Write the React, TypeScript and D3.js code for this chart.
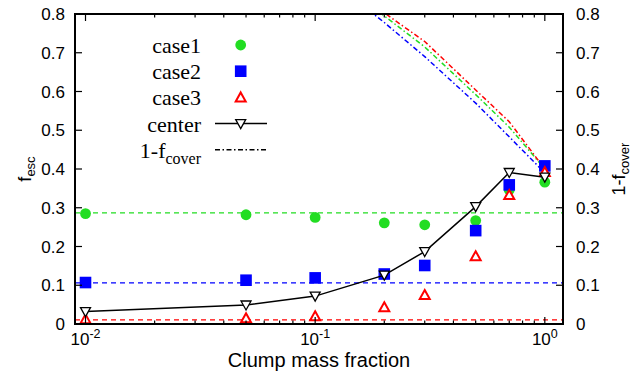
import * as d3 from 'd3'
import { useEffect, useRef } from 'react'

// clump mass fraction (x) and escape fractions for each case
const fraction = [0.01, 0.05, 0.1, 0.2, 0.3, 0.5, 0.7, 1.0]
const case1 = [0.285, 0.282, 0.275, 0.261, 0.256, 0.267, 0.346, 0.366]
const case2 = [0.107, 0.113, 0.119, 0.129, 0.151, 0.241, 0.359, 0.408]
const case3 = [0.012, 0.015, 0.02, 0.043, 0.075, 0.175, 0.333, 0.392]
const center = [0.032, 0.049, 0.072, 0.126, 0.187, 0.303, 0.391, 0.379]

// 1 - f_cover curves (right axis, same range)
const coverFraction = [0.1, 0.2, 0.3, 0.5, 0.7, 1.0]
const cover1 = [0.93, 0.795, 0.715, 0.592, 0.508, 0.4]
const cover2 = [0.92, 0.778, 0.69, 0.57, 0.483, 0.39]
const cover3 = [0.95, 0.803, 0.729, 0.604, 0.522, 0.4]

// homogeneous reference levels (dashed)
const baseLevels = [0.287, 0.106, 0.0105]

const xMajor = [0.01, 0.1, 1]
const xExp = ['-2', '-1', '0']
const yTicks = [0, 0.1, 0.2, 0.3, 0.4, 0.5, 0.6, 0.7, 0.8]

const green = '#22dd22'
const blue = '#0000ff'
const red = '#ff0000'

const App = () => {
  const ref = useRef<SVGSVGElement>(null)

  useEffect(() => {
    const W = 644,
      H = 371
    const margin = { top: 14, right: 81, bottom: 47, left: 75 }
    const svg = d3.select(ref.current)
    svg.selectAll('*').remove()

    const x = d3
      .scaleLog()
      .domain([0.009, 1.2])
      .range([margin.left, W - margin.right])
    const y = d3
      .scaleLinear()
      .domain([0, 0.8])
      .range([H - margin.bottom, margin.top])

    const x0 = margin.left,
      x1 = W - margin.right,
      y0 = H - margin.bottom,
      y1 = margin.top
    const sans = 'Liberation Sans, Arial, sans-serif'
    const serif = 'Liberation Serif, Times New Roman, serif'

    svg
      .append('defs')
      .append('clipPath')
      .attr('id', 'plotclip')
      .append('rect')
      .attr('x', x0)
      .attr('y', y1)
      .attr('width', x1 - x0)
      .attr('height', y0 - y1)

    const plot = svg.append('g').attr('clip-path', 'url(#plotclip)')

    // dashed reference levels
    const levelColors = [green, blue, red]
    baseLevels.forEach((v, i) => {
      plot
        .append('line')
        .attr('x1', x0)
        .attr('x2', x1)
        .attr('y1', y(v))
        .attr('y2', y(v))
        .attr('stroke', levelColors[i])
        .attr('stroke-width', 1.3)
        .attr('stroke-dasharray', '5,4')
    })

    // 1-fcover dash-dot curves
    const line = d3
      .line<[number, number]>()
      .x((d) => x(d[0]))
      .y((d) => y(d[1]))
    ;[
      [cover1, green],
      [cover2, blue],
      [cover3, red],
    ].forEach(([vals, col]: any) => {
      plot
        .append('path')
        .attr('d', line(coverFraction.map((f, i) => [f, vals[i]])))
        .attr('fill', 'none')
        .attr('stroke', col)
        .attr('stroke-width', 1.5)
        .attr('stroke-dasharray', '5,2.5,1.5,2.5')
    })

    const upTri = (cx: number, cy: number) =>
      `M${cx},${cy - 5}L${cx + 5},${cy + 4}L${cx - 5},${cy + 4}Z`
    const downTri = (cx: number, cy: number) =>
      `M${cx},${cy + 5}L${cx + 5},${cy - 4}L${cx - 5},${cy - 4}Z`

    // case1 circles
    plot
      .selectAll('.c1')
      .data(case1)
      .enter()
      .append('circle')
      .attr('cx', (d, i) => x(fraction[i]))
      .attr('cy', (d) => y(d))
      .attr('r', 5.4)
      .attr('fill', green)

    // case2 squares
    plot
      .selectAll('.c2')
      .data(case2)
      .enter()
      .append('rect')
      .attr('x', (d, i) => x(fraction[i]) - 5.8)
      .attr('y', (d) => y(d) - 5.8)
      .attr('width', 11.6)
      .attr('height', 11.6)
      .attr('fill', blue)

    // case3 open triangles
    plot
      .selectAll('.c3')
      .data(case3)
      .enter()
      .append('path')
      .attr('d', (d, i) => upTri(x(fraction[i]), y(d)))
      .attr('fill', 'white')
      .attr('stroke', red)
      .attr('stroke-width', 2)

    // center line
    plot
      .append('path')
      .attr('d', line(fraction.map((f, i) => [f, center[i]])))
      .attr('fill', 'none')
      .attr('stroke', 'black')
      .attr('stroke-width', 1.5)
    plot
      .selectAll('.cn')
      .data(center)
      .enter()
      .append('path')
      .attr('d', (d, i) => downTri(x(fraction[i]), y(d)))
      .attr('fill', 'white')
      .attr('stroke', 'black')
      .attr('stroke-width', 1.3)

    // frame
    svg
      .append('rect')
      .attr('x', x0)
      .attr('y', y1)
      .attr('width', x1 - x0)
      .attr('height', y0 - y1)
      .attr('fill', 'none')
      .attr('stroke', 'black')
      .attr('stroke-width', 2)

    const ticks = svg.append('g').attr('stroke', 'black').attr('stroke-width', 1.2)

    // x ticks (major + minor), inward on bottom and top
    const minor: number[] = []
    ;[0.01, 0.1].forEach((b) => {
      for (let k = 2; k <= 9; k++) minor.push(b * k)
    })
    const xt = xMajor.map((v) => [v, 7]).concat(minor.map((v) => [v, 3.5]))
    xt.forEach(([v, len]) => {
      ticks
        .append('line')
        .attr('x1', x(v))
        .attr('x2', x(v))
        .attr('y1', y0)
        .attr('y2', y0 - len)
      ticks
        .append('line')
        .attr('x1', x(v))
        .attr('x2', x(v))
        .attr('y1', y1)
        .attr('y2', y1 + len)
    })

    // y ticks on both sides
    yTicks.forEach((v) => {
      ticks
        .append('line')
        .attr('x1', x0)
        .attr('x2', x0 + 7)
        .attr('y1', y(v))
        .attr('y2', y(v))
      ticks
        .append('line')
        .attr('x1', x1)
        .attr('x2', x1 - 7)
        .attr('y1', y(v))
        .attr('y2', y(v))
    })

    const fmt = (v: number) => (v === 0 ? '0' : v.toFixed(1))
    yTicks.forEach((v) => {
      svg
        .append('text')
        .attr('x', x0 - 10)
        .attr('y', y(v))
        .attr('dy', '0.36em')
        .attr('text-anchor', 'end')
        .style('font-family', sans)
        .style('font-size', '17px')
        .text(fmt(v))
      svg
        .append('text')
        .attr('x', x1 + 13)
        .attr('y', y(v))
        .attr('dy', '0.36em')
        .attr('text-anchor', 'start')
        .style('font-family', sans)
        .style('font-size', '17px')
        .text(fmt(v))
    })

    xMajor.forEach((v, i) => {
      const t = svg
        .append('text')
        .attr('x', x(v))
        .attr('y', 345)
        .attr('text-anchor', 'middle')
        .style('font-family', sans)
        .style('font-size', '17px')
      t.append('tspan').text('10')
      t.append('tspan')
        .attr('dy', -7)
        .style('font-size', '12.5px')
        .text(xExp[i])
    })

    // axis titles
    svg
      .append('text')
      .attr('x', (x0 + x1) / 2)
      .attr('y', 366.5)
      .attr('text-anchor', 'middle')
      .style('font-family', sans)
      .style('font-size', '20px')
      .text('Clump mass fraction')

    const yl = svg
      .append('text')
      .attr('transform', `translate(31,${(y0 + y1) / 2}) rotate(-90)`)
      .attr('text-anchor', 'middle')
      .style('font-family', sans)
      .style('font-size', '18px')
    yl.append('tspan').text('f')
    yl.append('tspan').attr('dy', 4).style('font-size', '13px').text('esc')

    const yr = svg
      .append('text')
      .attr('transform', `translate(625,${(y0 + y1) / 2}) rotate(-90)`)
      .attr('text-anchor', 'middle')
      .style('font-family', sans)
      .style('font-size', '18px')
    yr.append('tspan').text('1-f')
    yr.append('tspan').attr('dy', 4).style('font-size', '13px').text('cover')

    // legend
    const legX = 201,
      symX = 240.7,
      ly = (i: number) => 45 + i * 26.2
    const legText = (i: number) =>
      svg
        .append('text')
        .attr('x', legX)
        .attr('y', ly(i) + 8)
        .attr('text-anchor', 'end')
        .style('font-family', serif)
        .style('font-size', '22px')
    legText(0).text('case1')
    legText(1).text('case2')
    legText(2).text('case3')
    legText(3).text('center')
    const lt = legText(4)
    lt.append('tspan').text('1-f')
    lt.append('tspan').attr('dy', 6).style('font-size', '16px').text('cover')

    svg
      .append('circle')
      .attr('cx', symX)
      .attr('cy', ly(0))
      .attr('r', 5.4)
      .attr('fill', green)
    svg
      .append('rect')
      .attr('x', symX - 5.8)
      .attr('y', ly(1) - 5.8)
      .attr('width', 11.6)
      .attr('height', 11.6)
      .attr('fill', blue)
    svg
      .append('path')
      .attr('d', upTri(symX, ly(2)))
      .attr('fill', 'white')
      .attr('stroke', red)
      .attr('stroke-width', 2)
    svg
      .append('line')
      .attr('x1', 215)
      .attr('x2', 267)
      .attr('y1', ly(3))
      .attr('y2', ly(3))
      .attr('stroke', 'black')
      .attr('stroke-width', 1.5)
    svg
      .append('path')
      .attr('d', downTri(symX, ly(3)))
      .attr('fill', 'white')
      .attr('stroke', 'black')
      .attr('stroke-width', 1.3)
    svg
      .append('line')
      .attr('x1', 215)
      .attr('x2', 267)
      .attr('y1', ly(4))
      .attr('y2', ly(4))
      .attr('stroke', 'black')
      .attr('stroke-width', 1.4)
      .attr('stroke-dasharray', '5,2.5,1.5,2.5')
  }, [])

  return (
    <svg
      ref={ref}
      width={644}
      height={371}
      style={{ position: 'absolute', left: 0, top: 0, background: 'white' }}
    />
  )
}

export default App
